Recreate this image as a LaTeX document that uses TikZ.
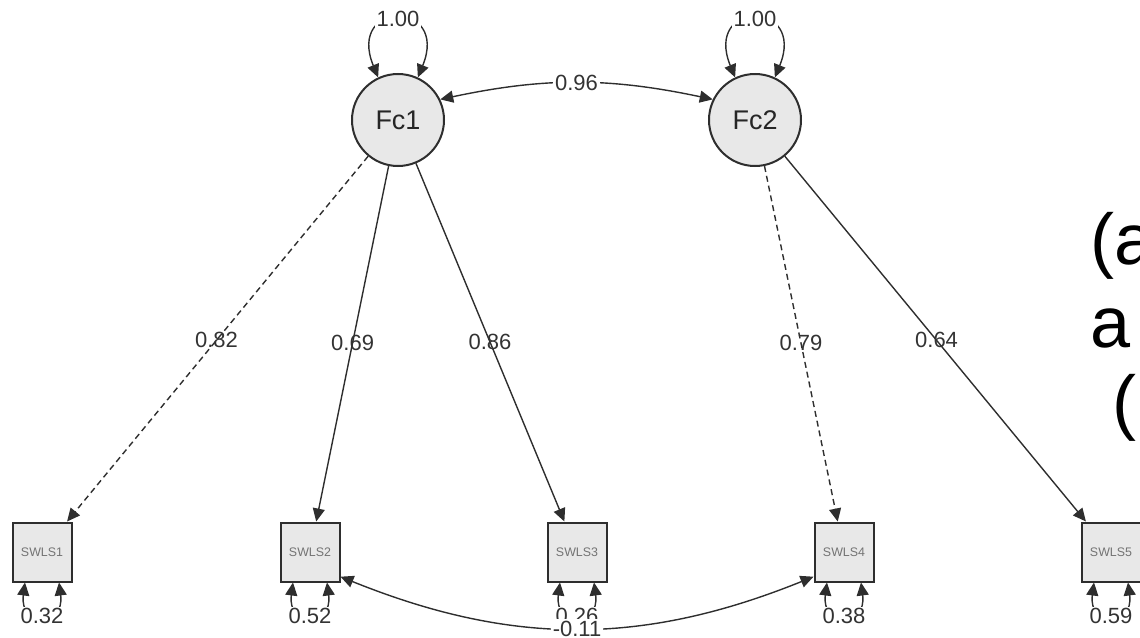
\documentclass[tikz,border=0pt]{standalone}
\usepackage{fontspec}
\setmainfont{Liberation Sans}
\usetikzlibrary{arrows.meta,calc}
\definecolor{edgegray}{HTML}{2E2E2E}
\definecolor{nodefill}{HTML}{E8E8E8}
\tikzset{
  latent/.style={circle,draw=edgegray,line width=1pt,fill=nodefill,minimum size=46pt,inner sep=0pt,font=\fontsize{13.5}{15}\selectfont,text=black!85},
  manifest/.style={rectangle,draw=edgegray,line width=1pt,fill=nodefill,minimum size=29.5pt,inner sep=0pt,font=\fontsize{6.2}{7}\selectfont,text=black!55},
  edge/.style={draw=edgegray,line width=0.7pt,-{Triangle[length=6.5pt,width=6pt]}},
  twoway/.style={draw=edgegray,line width=0.7pt,{Triangle[length=6.5pt,width=6pt]}-{Triangle[length=6.5pt,width=6pt]}},
  dashedge/.style={edge,dash pattern=on 3pt off 2pt},
  lbl/.style={font=\fontsize{11}{12}\selectfont,text=black!80,inner sep=0.8pt},
  lblbg/.style={lbl,fill=white},
  bigtxt/.style={font=\fontsize{36}{43}\selectfont,inner sep=0pt,anchor=base west}
}
\begin{document}
\begin{tikzpicture}[x=0.5pt,y=-0.5pt]
    \useasboundingbox (0,0) rectangle (1140,637);
    \clip (0,0) rectangle (1140,637);
    % factors
    \node[latent] (Fc1) at (398,120) {Fc1};
    \node[latent] (Fc2) at (755,120) {Fc2};
    % items
    \foreach \i/\x in {1/42,2/310,3/577,4/844,5/1111}
        \node[manifest] (SWLS\i) at (\x,552) {SWLS\i};

    % loadings
    \draw[dashedge] (Fc1) -- (SWLS1); \node[lbl] (lo1) at ($(Fc1)!0.51!(SWLS1)$) {0.82};
    \draw[edge] (Fc1) -- (SWLS2); \node[lbl] (lo2) at ($(Fc1)!0.516!(SWLS2)$) {0.69};
    \draw[edge] (Fc1) -- (SWLS3); \node[lbl] (lo3) at ($(Fc1)!0.514!(SWLS3)$) {0.86};
    \draw[dashedge] (Fc2) -- (SWLS4); \node[lbl] (lo4) at ($(Fc2)!0.516!(SWLS4)$) {0.79};
    \draw[edge] (Fc2) -- (SWLS5); \node[lbl] (lo5) at ($(Fc2)!0.51!(SWLS5)$) {0.64};

    % factor variances
    \draw[twoway] (Fc1.115) .. controls +(-32,-78) and +(32,-78) .. node[lblbg] (v1) {1.00} (Fc1.65);
    \draw[twoway] (Fc2.115) .. controls +(-32,-78) and +(32,-78) .. node[lblbg] (v2) {1.00} (Fc2.65);

    % residuals
    \foreach \i/\v in {1/0.32,2/0.52,3/0.26,4/0.38,5/0.59}
        \draw[twoway] ($(SWLS\i.south)+(-17,0)$) .. controls +(-6,45) and +(6,45) .. node[lblbg] (r\i) {\v} ($(SWLS\i.south)+(17,0)$);

    % covariances
    \draw[twoway] (Fc1.26) to[bend left=12] node[lblbg] (c12) {0.96} (Fc2.154);
    \draw[twoway] (SWLS2.-39) to[bend right=22] node[lblbg] (c24) {-0.11} (SWLS4.-141);

    % text cut off at the right
    \node[bigtxt] (t1) at (1090,264) {(a};
    \node[bigtxt] (t2) at (1090,347) {a};
    \node[bigtxt] (t3) at (1112,426) {(};
\end{tikzpicture}
\end{document}
